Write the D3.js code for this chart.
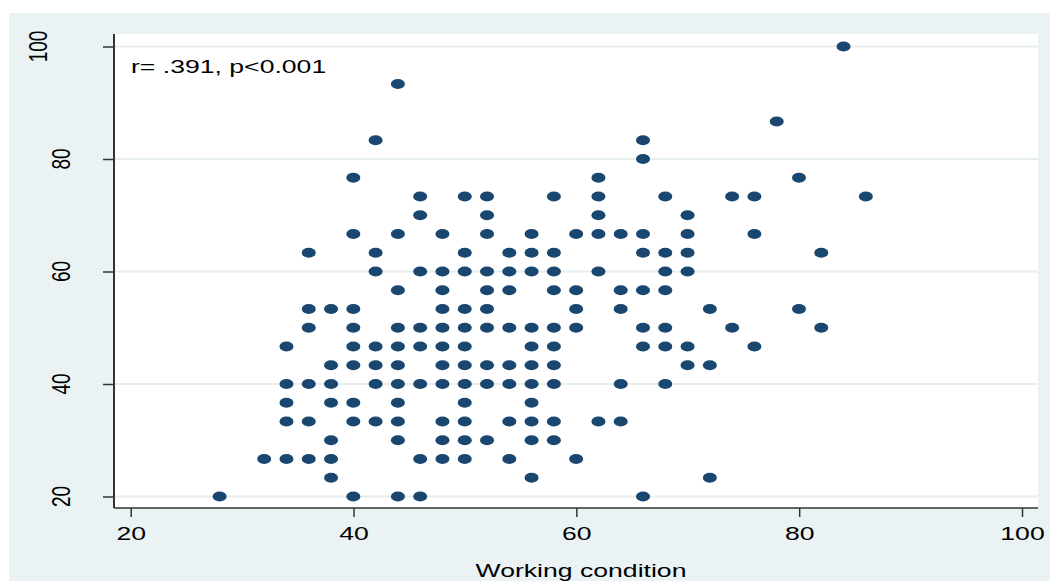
<!DOCTYPE html>
<html>
<head>
<meta charset="utf-8">
<script src="https://cdn.jsdelivr.net/npm/d3@7"></script>
<style>
  body { margin: 0; background: #fff; }
  svg { display: block; }
  text { font-family: "Liberation Sans", Arial, sans-serif; fill: #000; }
</style>
</head>
<body>
<div id="chart"></div>
<script>
// working condition score (x) and the scores seen at each x (y)
var workCond = [28, 32, 34, 36, 38, 40, 42, 44, 46, 48, 50, 52, 54, 56, 58,
                60, 62, 64, 66, 68, 70, 72, 74, 76, 78, 80, 82, 84, 86];
var scoresAt = [
    [20],
    [26.67],
    [46.67, 40, 36.67, 33.33, 26.67],
    [63.33, 53.33, 50, 40, 33.33, 26.67],
    [53.33, 43.33, 40, 36.67, 30, 26.67, 23.33],
    [76.67, 66.67, 53.33, 50, 46.67, 43.33, 36.67, 33.33, 20],
    [83.33, 63.33, 60, 46.67, 43.33, 40, 33.33],
    [93.33, 66.67, 56.67, 50, 46.67, 43.33, 40, 36.67, 33.33, 30, 20],
    [73.33, 70, 60, 50, 46.67, 40, 26.67, 20],
    [66.67, 60, 56.67, 53.33, 50, 46.67, 43.33, 40, 33.33, 30, 26.67],
    [73.33, 63.33, 60, 53.33, 50, 46.67, 43.33, 40, 36.67, 33.33, 30, 26.67],
    [73.33, 70, 66.67, 60, 56.67, 53.33, 50, 43.33, 40, 30],
    [63.33, 60, 56.67, 50, 43.33, 40, 33.33, 26.67],
    [66.67, 63.33, 60, 50, 46.67, 43.33, 40, 36.67, 33.33, 30, 23.33],
    [73.33, 63.33, 60, 56.67, 50, 46.67, 43.33, 40, 33.33, 30],
    [66.67, 56.67, 53.33, 50, 26.67],
    [76.67, 73.33, 70, 66.67, 60, 33.33],
    [66.67, 56.67, 53.33, 40, 33.33],
    [83.33, 80, 66.67, 63.33, 56.67, 50, 46.67, 20],
    [73.33, 63.33, 60, 56.67, 50, 46.67, 40],
    [70, 66.67, 63.33, 60, 46.67, 43.33],
    [53.33, 43.33, 23.33],
    [73.33, 50],
    [73.33, 66.67, 46.67],
    [86.67],
    [76.67, 53.33],
    [63.33, 50],
    [100],
    [73.33]
];
var xTicks = [20, 40, 60, 80, 100];
var yTicks = [20, 40, 60, 80, 100];
var note = "r= .391, p<0.001";
var xTitle = "Working condition";

var points = [];
workCond.forEach(function (x, i) {
    scoresAt[i].forEach(function (y) { points.push({ x: x, y: y }); });
});

// the original picture was stretched sideways, so draw in a narrower box
var K = 1.4;
var W = 1050, H = 581;
function px(v) { return v / K; }

var svg = d3.select("#chart").append("svg")
    .attr("width", W)
    .attr("height", H)
    .attr("viewBox", "0 0 " + px(W) + " " + H)
    .attr("preserveAspectRatio", "none");

// outer graph region
svg.append("rect")
    .attr("x", px(9)).attr("y", 13)
    .attr("width", px(W - 9)).attr("height", H - 13)
    .attr("fill", "#eaf2f3");

var plotL = px(114), plotR = px(1038), plotT = 34, plotB = 508;

svg.append("rect")
    .attr("x", plotL).attr("y", plotT)
    .attr("width", plotR - plotL).attr("height", plotB - plotT)
    .attr("fill", "#fff");

var x = d3.scaleLinear().domain([20, 100]).range([px(130.5), px(1021.8)]);
var y = d3.scaleLinear().domain([20, 100]).range([496.5, 46.5]);

// grid lines
svg.append("g").selectAll("line")
    .data(yTicks)
    .enter()
    .append("line")
    .attr("x1", plotL).attr("x2", plotR)
    .attr("y1", function (d) { return y(d); })
    .attr("y2", function (d) { return y(d); })
    .attr("stroke", "#e6eef0")
    .attr("stroke-width", 2)
    .attr("vector-effect", "non-scaling-stroke");

// x axis
var xAxis = svg.append("g")
    .attr("transform", "translate(0," + plotB + ")")
    .call(d3.axisBottom(x).tickValues(xTicks).tickSize(9).tickPadding(9.5).tickSizeOuter(0));
xAxis.select(".domain").remove();
xAxis.selectAll(".tick line")
    .attr("stroke", "#333").attr("stroke-width", 1.5)
    .attr("vector-effect", "non-scaling-stroke");
xAxis.selectAll(".tick text")
    .attr("font-size", 19).attr("fill", "#000")
    .style("font-family", "'Liberation Sans', Arial, sans-serif");

// y axis ticks (labels drawn rotated below)
var yAxis = svg.append("g")
    .attr("transform", "translate(" + plotL + ",0)")
    .call(d3.axisLeft(y).tickValues(yTicks).tickSize(px(11)).tickFormat("").tickSizeOuter(0));
yAxis.select(".domain").remove();
yAxis.selectAll(".tick line")
    .attr("stroke", "#333").attr("stroke-width", 1.5)
    .attr("vector-effect", "non-scaling-stroke");

svg.append("g").selectAll("text")
    .data(yTicks)
    .enter()
    .append("text")
    .attr("transform", function (d) {
        var bx = d === 100 ? px(47) : px(70);
        return "translate(" + bx + "," + y(d) + ") rotate(-90)";
    })
    .attr("text-anchor", "middle")
    .attr("font-size", 19)
    .text(function (d) { return d; });

// axis lines
svg.append("line")
    .attr("x1", plotL).attr("x2", plotL)
    .attr("y1", plotT).attr("y2", plotB)
    .attr("stroke", "#333").attr("stroke-width", 2)
    .attr("vector-effect", "non-scaling-stroke");
svg.append("line")
    .attr("x1", plotL).attr("x2", plotR)
    .attr("y1", plotB).attr("y2", plotB)
    .attr("stroke", "#333").attr("stroke-width", 1.6)
    .attr("vector-effect", "non-scaling-stroke");

// points
svg.append("g").selectAll("circle")
    .data(points)
    .enter()
    .append("circle")
    .attr("cx", function (d) { return x(d.x); })
    .attr("cy", function (d) { return y(d.y); })
    .attr("r", 5)
    .attr("fill", "#1a476f");

// annotation and title
svg.append("text")
    .attr("x", px(131)).attr("y", 73)
    .attr("font-size", 19)
    .text(note);

svg.append("text")
    .attr("x", px(581)).attr("y", 577)
    .attr("text-anchor", "middle")
    .attr("font-size", 19)
    .text(xTitle);
</script>
</body>
</html>
